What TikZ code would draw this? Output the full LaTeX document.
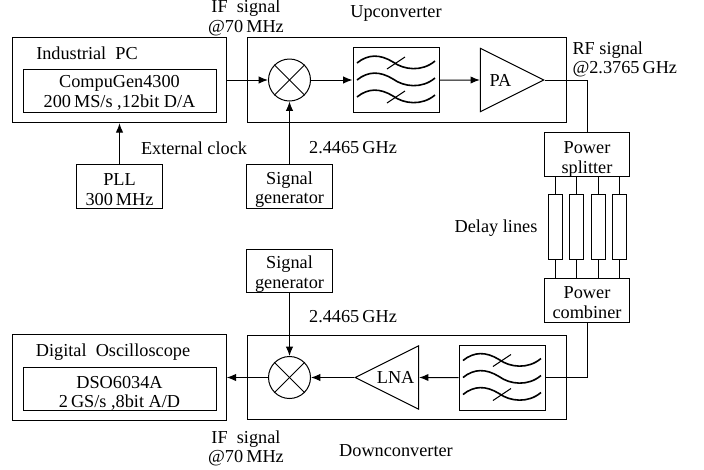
\documentclass[tikz,border=0pt]{standalone}
\usepackage{fontspec}
\setmainfont{Liberation Serif}
\usetikzlibrary{positioning, calc, shapes.geometric, arrows.meta}

\begin{document}
\begin{tikzpicture}[
    x=0.75pt, y=-0.75pt,
    line width=0.75pt,
    every node/.style={font=\fontsize{13.7}{14.6}\selectfont, inner sep=0pt, align=center},
    blockbox/.style={rectangle, draw, minimum width=64pt, minimum height=32.5pt, text height=28.5pt},
    widebox/.style={rectangle, draw, minimum width=160pt, minimum height=64pt},
    innerbox/.style={rectangle, draw, minimum width=144.75pt, minimum height=32.25pt, text height=27pt},
    convbox/.style={rectangle, draw, minimum width=239.25pt, minimum height=63.5pt},
    filterbox/.style={rectangle, draw, minimum width=64.5pt, minimum height=48.75pt},
    delaybox/.style={rectangle, draw, minimum width=10.5pt, minimum height=48.75pt},
    mixer/.style={circle, draw, minimum size=31.5pt},
    amp/.style={isosceles triangle, isosceles triangle stretches, draw,
                minimum width=47.5pt, minimum height=47.5pt},
    sig/.style={-{Latex[length=7pt,width=5.5pt]}},
    pics/waves/.style={code={
      \foreach \dy in {-17,0,17} {
        \draw[line width=1.2pt] (-39,\dy) .. controls (-28,\dy-9) and (-16,\dy-9) .. (-3,\dy-1)
          .. controls (8,\dy+7) and (26,\dy+9) .. (39,\dy-2);
      }
      \foreach \dy in {-17,17} {
        \draw (-9,\dy+6) -- (9,\dy-6);
      }
    }},
  ]
    \useasboundingbox (0,0) rectangle (704,469);

    \node[widebox] (PC) at (119.5,80) {};
    \node (PClabel) at (87,53) {Industrial\ \ PC};
    \node[innerbox] (gen) at (119.5,90.5) {CompuGen4300\\200\,MS/s ,12bit D/A};
    \node[blockbox] (PLL) at (119.5,186.5) {PLL\\300\,MHz};
    \node[blockbox] (sigup) at (289.5,186.5) {Signal\\generator};

    \node[convbox] (upbox) at (406.5,80) {};
    \node[mixer] (mixup) at (289.5,80) {};
    \node[filterbox] (filtup) at (396,80) {};
    \pic at (396,80) {waves};
    \node[amp, anchor=apex] (PA) at (545,80) {PA};

    \node[blockbox, minimum height=33pt, text height=29pt, text depth=0pt] (split) at (587,154) {Power\\splitter};
    \node[blockbox, minimum height=33pt, text height=27pt] (comb) at (587,300.5) {Power\\combiner};
    \foreach \i/\xpos in {1/555,2/576,3/598,4/619} {
      \node[delaybox] (dl\i) at (\xpos,226.5) {};
      \draw (split.south -| dl\i) -- (dl\i.north);
      \draw (dl\i.south) -- (comb.north -| dl\i);
    }

    \node[blockbox] (sigdown) at (289.5,271) {Signal\\generator};
    \node[convbox] (downbox) at (406.5,377.5) {};
    \node[mixer] (mixdown) at (289.5,377.5) {};
    \node[amp, shape border rotate=180, anchor=apex] (LNA) at (354,377.5) {LNA};
    \node[filterbox] (filtdown) at (502,377.5) {};
    \pic at (502,377.5) {waves};

    \node[widebox] (DO) at (119.5,377.5) {};
    \node (DOlabel) at (113,352.5) {Digital\ \ Oscilloscope};
    \node[innerbox, text height=29pt, text depth=0pt] (scope) at (119.5,388.5) {DSO6034A\\2\,GS/s ,8bit A/D};

    \foreach \m in {mixup,mixdown} {
      \draw (\m.north west) -- (\m.south east);
      \draw (\m.north east) -- (\m.south west);
    }

    \draw[sig] (PC.east) -- (mixup.west);
    \draw[sig] (mixup.east) -- (filtup.west);
    \draw[sig] (filtup.east) -- (PA.west);
    \draw[sig] (PLL.north) -- (PC.south);
    \draw[sig] (sigup.north) -- (mixup.south);
    \draw (PA.apex) -| (split.north);
    \draw (comb.south) |- (filtdown.east);
    \draw[sig] (filtdown.west) -- (LNA.east);
    \draw[sig] (LNA.apex) -- (mixdown.east);
    \draw[sig] (sigdown.south) -- (mixdown.north);
    \draw[sig] (mixdown.west) -- (DO.east);

    \node (IFup) at (246,18) {IF\ \ signal\\@70\,MHz};
    \node (uplabel) at (396,13) {Upconverter};
    \node[anchor=west, align=left] (RF) at (572,59.5) {RF signal\\@2.3765\,GHz};
    \node (clock) at (194,148) {External clock};
    \node (LOup) at (353,148) {2.4465\,GHz};
    \node (delay) at (496,228) {Delay lines};
    \node (LOdown) at (353,317) {2.4465\,GHz};
    \node (IFdown) at (246,448.5) {IF\ \ signal\\@70\,MHz};
    \node (downlabel) at (396,451) {Downconverter};
  \end{tikzpicture}
\end{document}
